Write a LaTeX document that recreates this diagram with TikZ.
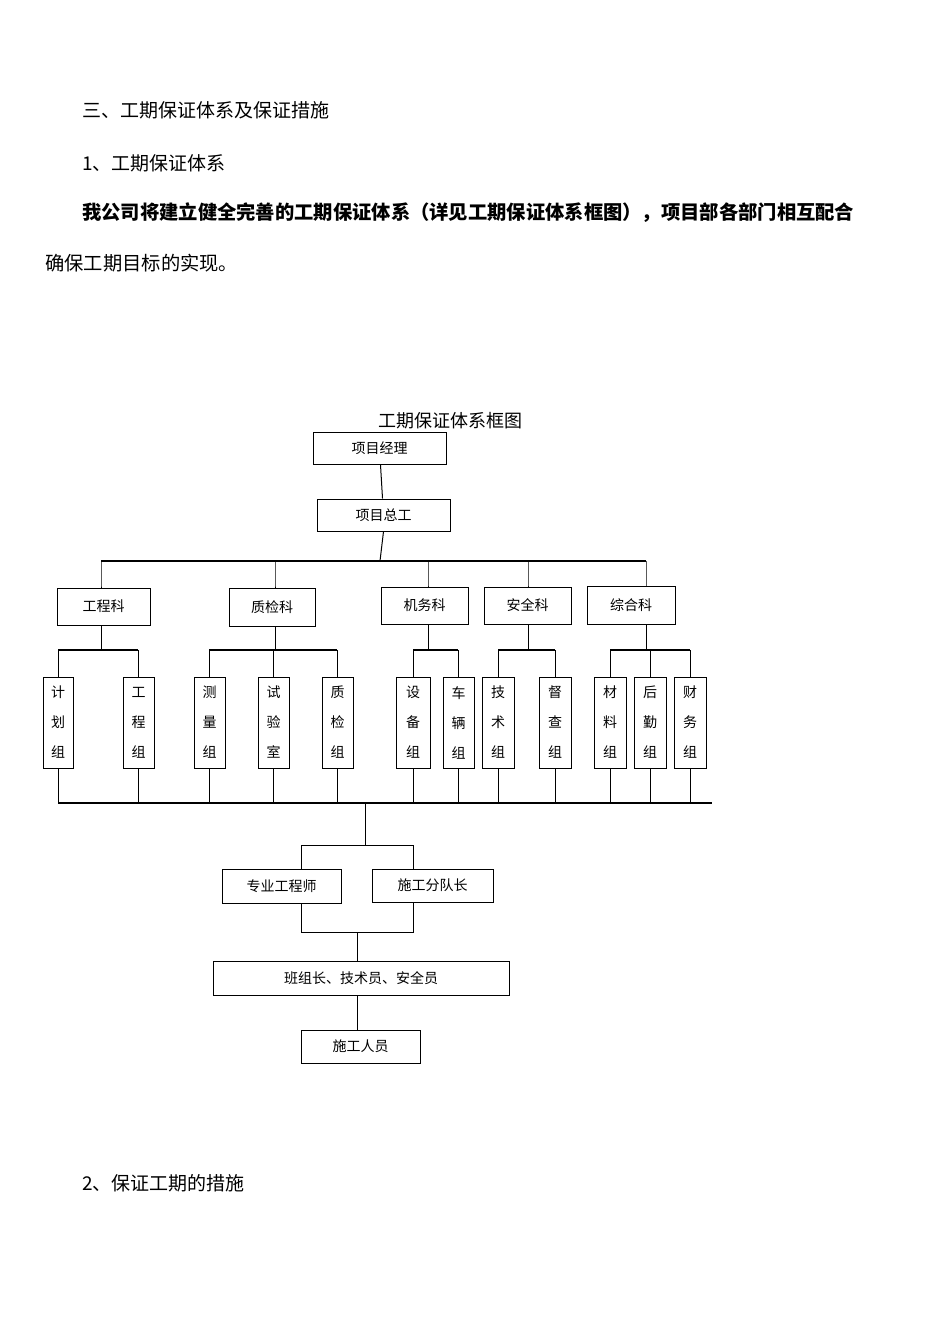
\documentclass[tikz,border=0pt]{standalone}
\usepackage{fontspec}
\newfontfamily\cjk{Noto Sans CJK SC}
\newfontfamily\cjkb{Noto Sans CJK SC}[BoldFont={* Medium}]
\begin{document}
\begin{tikzpicture}[x=1pt,y=-1pt,
  box/.style={draw,line width=1pt,inner sep=0pt,font=\cjk\fontsize{14}{30}\selectfont,align=center},
  ln/.style={line width=1pt},
  tk/.style={line width=2pt},
  txt/.style={anchor=west,inner sep=0pt,font=\cjk\fontsize{19}{22}\selectfont}]
\useasboundingbox (0,0) rectangle (950,1344);
\newcommand\bx[6]{\node[box,minimum width={(#4-#2)*1pt},minimum height={(#5-#3)*1pt}] (#1) at ({(#2+#4)/2},{(#3+#5)/2}) {#6};}
\node[txt] (h1) at (82,110) {三、工期保证体系及保证措施};
\node[txt] (h2) at (82,163) {1、工期保证体系};
\node[txt,font=\cjk\fontsize{19.3}{22}\selectfont\bfseries] (p1) at (82,213) {我公司将建立健全完善的工期保证体系（详见工期保证体系框图），项目部各部门相互配合};
\node[txt,font=\cjk\fontsize{19.3}{22}\selectfont] (p2) at (45,263) {确保工期目标的实现。};
\node[txt] (h3) at (82,1183) {2、保证工期的措施};
\node[inner sep=0pt,font=\cjk\fontsize{18}{20}\selectfont] (title) at (450,421) {工期保证体系框图};
\bx{pm}{313}{432}{446}{464}{项目经理}
\bx{pe}{317}{499}{450}{531}{项目总工}
\bx{k1}{57}{588}{150}{625}{工程科}
\bx{k2}{229}{588}{315}{626}{质检科}
\bx{k3}{381}{587}{468}{624}{机务科}
\bx{k4}{484}{587}{571}{624}{安全科}
\bx{k5}{587}{586}{675}{624}{综合科}
\bx{c1}{43}{677}{73}{768}{计\\划\\组}
\bx{c2}{123}{677}{154}{768}{工\\程\\组}
\bx{c3}{194}{677}{225}{768}{测\\量\\组}
\bx{c4}{258}{677}{289}{768}{试\\验\\室}
\bx{c5}{322}{677}{353}{768}{质\\检\\组}
\bx{c6}{396}{677}{430}{768}{设\\备\\组}
\bx{c7}{443}{677}{474}{768}{车\\辆\\组}
\bx{c8}{482}{677}{514}{768}{技\\术\\组}
\bx{c9}{539}{677}{571}{768}{督\\查\\组}
\bx{c10}{594}{677}{626}{768}{材\\料\\组}
\bx{c11}{634}{677}{666}{768}{后\\勤\\组}
\bx{c12}{674}{677}{706}{768}{财\\务\\组}
\bx{s1}{222}{869}{341}{903}{专业工程师}
\bx{s2}{372}{869}{493}{902}{施工分队长}
\bx{bz}{213}{961}{509}{995}{班组长、技术员、安全员}
\bx{wk}{301}{1030}{420}{1063}{施工人员}
\draw[ln] (pm) -- (pe);
\draw[ln] (pe.south) -- (380,561);
\draw[tk] (101,561) -- (646,561);
\foreach \k/\x in {k1/101,k2/275,k3/428,k4/528,k5/646}{\draw[ln] (\x,561) -- (\x,586) -- (\k.north -| \x,0);}
% sub buses
\foreach \k/\x/\a/\b in {k1/101/58/138,k2/275/209/337,k3/428/413/458,k4/528/498/555,k5/646/610/690}{
  \draw[ln] (\k.south -| \x,0) -- (\x,650);
  \draw[tk] (\a,650) -- (\b,650);}
\foreach \c in {c1,c2,c3,c4,c5,c6,c7,c8,c9,c10,c11,c12}{
  \draw[ln] (\c.north) -- (\c.north |- 0,650);
  \draw[ln] (\c.south) -- (\c.south |- 0,803);}
\draw[tk] (58,803) -- (712,803);
\coordinate (mid) at (365,845);
\draw[ln] (365,803) -- (mid);
\draw[ln] (s1.north -| 301,0) -- (301,845) -- (413,845) -- (s2.north -| 413,0);
\draw[ln] (s1.south -| 301,0) -- (301,932) -- (413,932) -- (s2.south -| 413,0);
\draw[ln] (357,932) -- (bz.north -| 357,0);
\draw[ln] (bz.south -| 357,0) -- (wk.north -| 357,0);
\end{tikzpicture}
\end{document}
